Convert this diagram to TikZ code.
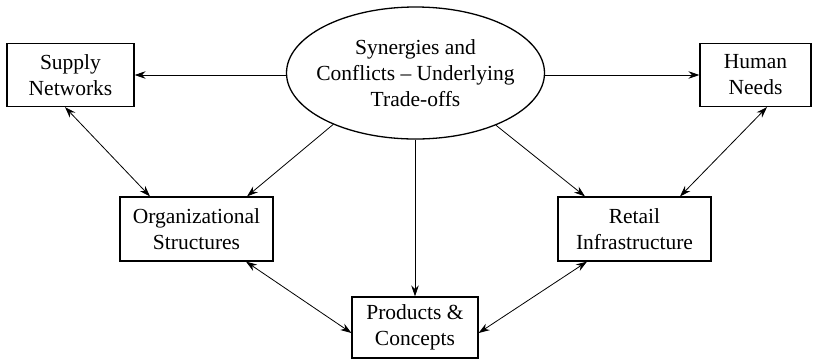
\documentclass[tikz,border=0pt]{standalone}
\usepackage{fontspec}
\setmainfont{Liberation Serif}
\usetikzlibrary{arrows.meta,shapes.geometric,calc}

\tikzset{
  box/.style={draw, line width=1.2pt, rectangle, align=center, inner sep=0pt,
    font=\fontsize{21.5}{26}\selectfont},
  oval/.style={draw, line width=1.3pt, ellipse, inner sep=0pt},
  label text/.style={align=center, inner sep=0pt, font=\fontsize{21.5}{26}\selectfont},
  link/.style={line width=0.8pt, -{Stealth[length=11pt,width=7.5pt]}},
  twoway/.style={line width=0.8pt, {Stealth[length=11pt,width=7.5pt]}-{Stealth[length=11pt,width=7.5pt]}}
}

\begin{document}
\begin{tikzpicture}[x=1pt,y=-1pt]
  \useasboundingbox (0,0) rectangle (819,360);

  % central theme
  \node[oval, minimum width=258pt, minimum height=132pt] (ell) at (415.5,73) {};
  \node[label text] (elltext) at (ell.center)
    {Synergies and\\Conflicts -- Underlying\\Trade-offs};

  % surrounding topics
  \node[box, minimum width=127pt, minimum height=63pt] (sup) at (70.5,75) {Supply\\Networks};
  \node[box, minimum width=111pt, minimum height=63pt] (hum) at (755.5,75) {Human\\Needs};
  \node[box, minimum width=153pt, minimum height=64pt] (org) at (196.5,229) {Organizational\\Structures};
  \node[box, minimum width=153pt, minimum height=64pt] (ret) at (634.5,229) {Retail\\Infrastructure};
  \node[box, minimum width=126pt, minimum height=61pt] (prd) at (415,327.5) {Products \&\\Concepts};

  % influences from the central theme
  \draw[link] (ell.west |- sup.east) -- (sup.east);
  \draw[link] (ell.east |- hum.west) -- (hum.west);
  \draw[link] (ell.212) -- ([xshift=50.5pt]org.north);
  \draw[link] (ell.327) -- ([xshift=-49.5pt]ret.north);
  \draw[link] (ell.south -| prd.north) -- (prd.north);

  % mutual relations
  \draw[twoway] ([xshift=-5.5pt]sup.south) -- ([xshift=-46.5pt]org.north);
  \draw[twoway] ([xshift=11.5pt]hum.south) -- ([xshift=45.5pt]ret.north);
  \draw[twoway] ([xshift=49.5pt]org.south) -- ([yshift=-5.5pt]prd.west);
  \draw[twoway] ([xshift=-47.5pt]ret.south) -- ([yshift=-5.5pt]prd.east);
\end{tikzpicture}
\end{document}
